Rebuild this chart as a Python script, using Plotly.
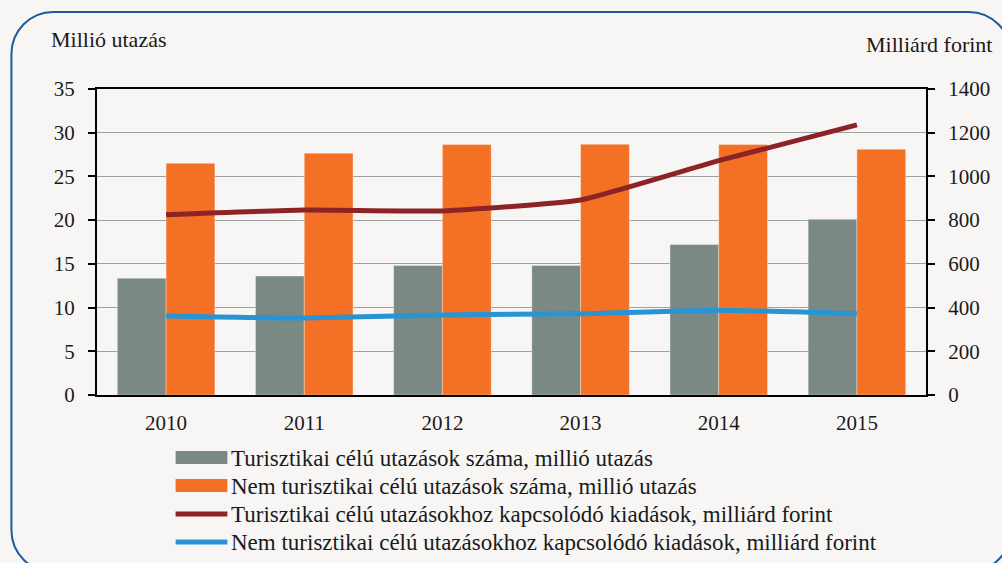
import plotly.graph_objects as go

years = ["2010", "2011", "2012", "2013", "2014", "2015"]
turisztikai_utazas = [13.35, 13.6, 14.8, 14.8, 17.2, 20.1]
nem_turisztikai_utazas = [26.5, 27.65, 28.64, 28.68, 28.64, 28.1]
turisztikai_kiadas = [825, 846, 842, 892, 1072, 1236]
nem_turisztikai_kiadas = [362, 352, 366, 372, 388, 372]

series_names = [
    "Turisztikai célú utazások száma, millió utazás",
    "Nem turisztikai célú utazások száma, millió utazás",
    "Turisztikai célú utazásokhoz kapcsolódó kiadások, milliárd forint",
    "Nem turisztikai célú utazásokhoz kapcsolódó kiadások, milliárd forint",
]
left_ticks = [0, 5, 10, 15, 20, 25, 30, 35]
right_ticks = [0, 200, 400, 600, 800, 1000, 1200, 1400]

GRAY = "#7A8983"
ORANGE = "#F37024"
RED = "#8C2327"
BLUE = "#2795D4"
BORDER = "#1D5B9B"
BG = "#F7F6F4"
FONT = "Liberation Serif"
TXT = "#1a1a1a"

W, H = 1002, 563
L, R, T, B = 97, 930, 89, 395


def px(x):
    return (x - L) / (R - L)


def py(y):
    return (B - y) / (B - T)


fig = go.Figure()
fig.add_trace(go.Bar(x=years, y=turisztikai_utazas, name=series_names[0],
                     marker=dict(color=GRAY, line=dict(color="rgba(255,255,255,0.35)", width=1)),
                     showlegend=False))
fig.add_trace(go.Bar(x=years, y=nem_turisztikai_utazas, name=series_names[1],
                     marker=dict(color=ORANGE, line=dict(color="rgba(255,255,255,0.35)", width=1)),
                     showlegend=False))
fig.add_trace(go.Scatter(x=years, y=turisztikai_kiadas, name=series_names[2], yaxis="y2",
                         mode="lines", line=dict(color=RED, width=5, shape="spline", smoothing=0.4),
                         showlegend=False))
fig.add_trace(go.Scatter(x=years, y=nem_turisztikai_kiadas, name=series_names[3], yaxis="y2",
                         mode="lines", line=dict(color=BLUE, width=5, shape="spline", smoothing=0.4),
                         showlegend=False))

shapes = []
# rounded border
x0, y0, x1, y1, r = 11, 12, 1015, 572, 42
k = 0.5523 * r
pts = [
    ("M", [(x0 + r, y0)]),
    ("L", [(x1 - r, y0)]),
    ("C", [(x1 - r + k, y0), (x1, y0 + r - k), (x1, y0 + r)]),
    ("L", [(x1, y1 - r)]),
    ("C", [(x1, y1 - r + k), (x1 - r + k, y1), (x1 - r, y1)]),
    ("L", [(x0 + r, y1)]),
    ("C", [(x0 + r - k, y1), (x0, y1 - r + k), (x0, y1 - r)]),
    ("L", [(x0, y0 + r)]),
    ("C", [(x0, y0 + r - k), (x0 + r - k, y0), (x0 + r, y0)]),
]
path = ""
for cmd, ps in pts:
    path += cmd + " ".join(f"{px(a):.5f},{py(b):.5f}" for a, b in ps) + " "
path += "Z"
shapes.append(dict(type="path", xref="paper", yref="paper", path=path,
                   line=dict(color=BORDER, width=2), fillcolor="rgba(0,0,0,0)", layer="below"))

# manual legend
annotations = []
rows = [458, 486, 514, 542]
sx0, sx1 = 176, 228
for i, (yc, name) in enumerate(zip(rows, series_names)):
    if i < 2:
        col = GRAY if i == 0 else ORANGE
        shapes.append(dict(type="rect", xref="paper", yref="paper",
                           x0=px(sx0), x1=px(sx1), y0=py(yc - 7), y1=py(yc + 6),
                           fillcolor=col, line=dict(width=0)))
    else:
        col = RED if i == 2 else BLUE
        shapes.append(dict(type="line", xref="paper", yref="paper",
                           x0=px(sx0), x1=px(sx1), y0=py(yc), y1=py(yc),
                           line=dict(color=col, width=5)))
    annotations.append(dict(text=name, xref="paper", yref="paper", x=px(230), y=py(yc),
                            xanchor="left", yanchor="middle", showarrow=False,
                            font=dict(family=FONT, size=23, color=TXT)))

annotations.append(dict(text="Millió utazás", xref="paper", yref="paper", x=px(49), y=py(40),
                        xanchor="left", yanchor="middle", showarrow=False,
                        font=dict(family=FONT, size=22, color=TXT)))
annotations.append(dict(text="Milliárd forint", xref="paper", yref="paper", x=px(998), y=py(44),
                        xanchor="right", yanchor="middle", showarrow=False,
                        font=dict(family=FONT, size=22, color=TXT)))

fig.update_layout(
    width=W, height=H,
    margin=dict(l=L, r=W - R, t=T, b=H - B, pad=0),
    paper_bgcolor=BG, plot_bgcolor=BG,
    barmode="group", bargap=0.294, bargroupgap=0,
    font=dict(family=FONT, size=21, color=TXT),
    shapes=shapes, annotations=annotations,
    xaxis=dict(type="category", showline=True, linecolor="black", linewidth=2, mirror=True,
               ticks="", showgrid=False, ticklabelstandoff=8,
               tickfont=dict(family=FONT, size=21, color=TXT)),
    yaxis=dict(range=[0, 35], tickvals=left_ticks, showline=True, linecolor="black", linewidth=2,
               ticks="outside", ticklen=7, tickcolor="black", tickwidth=1.5,
               showgrid=True, gridcolor="#A0A0A0", gridwidth=1.2, zeroline=False,
               ticklabelstandoff=9, tickfont=dict(family=FONT, size=21, color=TXT)),
    yaxis2=dict(range=[0, 1400], tickvals=right_ticks, overlaying="y", side="right",
                showline=True, linecolor="black", linewidth=2,
                ticks="outside", ticklen=7, tickcolor="black", tickwidth=1.5,
                showgrid=False, zeroline=False, ticklabelstandoff=9,
                tickfont=dict(family=FONT, size=21, color=TXT)),
)

fig.write_html("out.html", config={"displayModeBar": False},
               post_script="document.body.style.margin='0px';document.body.style.overflow='hidden';")
